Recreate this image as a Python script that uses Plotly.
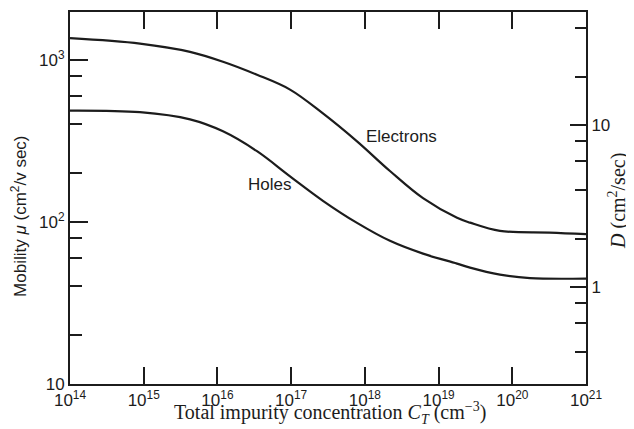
import math
import plotly.graph_objects as go

# Data (x: impurity concentration cm^-3, y: mobility cm^2/V s)
conc_e = [1e14, 8.9e14, 4.25e15, 1.19e16, 3.44e16, 9.66e16, 2.70e17, 7.83e17, 2.19e18, 6.15e18, 1.78e19, 2.67e19, 6.8e19, 3.2e20, 1e21]
mu_e = [1360, 1259, 1120, 973, 809, 655, 467, 314, 206, 140, 106, 99, 88, 86, 84]

conc_h = [1e14, 8.9e14, 4.25e15, 1.19e16, 3.44e16, 9.66e16, 2.70e17, 7.83e17, 2.19e18, 6.15e18, 1.78e19, 2.67e19, 6.8e19, 1.74e20, 1e21]
mu_h = [486, 475, 429, 362, 273, 191, 135, 98.6, 76.4, 63.7, 55.3, 52.2, 47.3, 45, 44.7]

x_ticks = [1e14, 1e15, 1e16, 1e17, 1e18, 1e19, 1e20, 1e21]
x_ticktext = ["10<sup>%d</sup>" % e for e in range(14, 22)]
y_ticks = [10, 100, 1000]
y_ticktext = ["10", "10<sup>2</sup>", "10<sup>3</sup>"]
y_minor = [20, 40, 60, 80, 200, 400, 600, 800]
d_ticks = [1, 10]
d_ticktext = ["1", "10"]
d_minor = [0.4, 0.6, 0.8, 2, 4, 6, 8, 20, 40]

KT_RATIO = 39.4  # mu / D scale between left and right axes
Y_RANGE = [1.0, 3.295]
D_RANGE = [Y_RANGE[0] - math.log10(KT_RATIO), Y_RANGE[1] - math.log10(KT_RATIO)]

SANS = "Liberation Sans, Arial, sans-serif"
SERIF = "Liberation Serif, Times New Roman, serif"
INK = "#1c1c1c"

# the page body adds an 8px offset, so the figure is 8px smaller to fit the window
W, H = 626, 421
L, R, T, B = 62, 48, 2, 45
PW, PH = W - L - R, H - T - B

def paper(px, py):
    # screen pixel -> paper coords
    fx, fy = px - 8, py - 8
    return (fx - L) / PW, 1 - (fy - T) / PH

fig = go.Figure()
for xs, ys in ((conc_e, mu_e), (conc_h, mu_h)):
    fig.add_trace(go.Scatter(x=xs, y=ys, mode="lines",
                             line=dict(color=INK, width=2.2, shape="spline", smoothing=1.0),
                             hoverinfo="skip", showlegend=False))

fig.add_trace(go.Scatter(x=[1e14, 1e21], y=[10 ** D_RANGE[0], 10 ** D_RANGE[1]], yaxis="y2",
                         mode="markers", marker=dict(opacity=0), hoverinfo="skip", showlegend=False))

tickfont = dict(family=SANS, size=17, color=INK)
fig.update_layout(
    width=W, height=H,
    margin=dict(l=L, r=R, t=T, b=B),
    paper_bgcolor="white", plot_bgcolor="white",
    showlegend=False,
    xaxis=dict(type="log", range=[14, 21], tickmode="array", tickvals=x_ticks, ticktext=x_ticktext,
               ticks="inside", ticklen=17, tickwidth=2, tickcolor=INK,
               showline=True, linewidth=2, linecolor=INK, mirror="ticks",
               showgrid=False, zeroline=False, tickfont=tickfont),
    yaxis=dict(type="log", range=Y_RANGE, tickmode="array", tickvals=y_ticks, ticktext=y_ticktext,
               ticks="inside", ticklen=18, tickwidth=2, tickcolor=INK,
               minor=dict(tickmode="array", tickvals=y_minor, ticks="inside", ticklen=12,
                          tickwidth=2, tickcolor=INK, showgrid=False),
               showline=True, linewidth=2, linecolor=INK,
               showgrid=False, zeroline=False, tickfont=tickfont),
    yaxis2=dict(type="log", range=D_RANGE, overlaying="y", side="right",
                tickmode="array", tickvals=d_ticks, ticktext=d_ticktext,
                ticks="inside", ticklen=16, tickwidth=2, tickcolor=INK,
                minor=dict(tickmode="array", tickvals=d_minor, ticks="inside", ticklen=11,
                           tickwidth=2, tickcolor=INK, showgrid=False),
                showline=True, linewidth=2, linecolor=INK,
                showgrid=False, zeroline=False, tickfont=tickfont),
)

fig.add_annotation(text="Electrons", x=18.50, y=2.528, xref="x", yref="y",
                   showarrow=False, font=dict(family=SANS, size=17, color=INK))
fig.add_annotation(text="Holes", x=16.71, y=2.233, xref="x", yref="y",
                   showarrow=False, font=dict(family=SANS, size=17, color=INK))

ax, ay = paper(19, 216)
fig.add_annotation(text="Mobility <i>μ</i> (cm<sup>2</sup>/v sec)", textangle=-90,
                   x=ax, y=ay, xref="paper", yref="paper", xanchor="center", yanchor="middle",
                   showarrow=False, font=dict(family=SANS, size=17, color=INK))
ax, ay = paper(618, 200)
fig.add_annotation(text="<i>D</i> (cm<sup>2</sup>/sec)", textangle=-90,
                   x=ax, y=ay, xref="paper", yref="paper", xanchor="center", yanchor="middle",
                   showarrow=False, font=dict(family=SERIF, size=20, color=INK))
ax, ay = paper(330, 413)
fig.add_annotation(text="Total impurity concentration <i>C<sub>T</sub></i> (cm<sup>−3</sup>)",
                   x=ax, y=ay, xref="paper", yref="paper", xanchor="center", yanchor="middle",
                   showarrow=False, font=dict(family=SERIF, size=20, color=INK))

fig.write_html("out.html")
